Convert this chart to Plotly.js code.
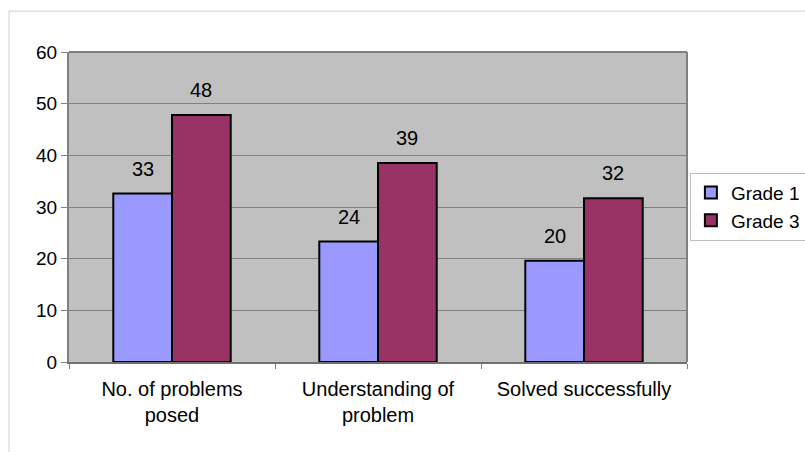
<!DOCTYPE html>
<html>
<head>
<meta charset="utf-8">
<script src="https://cdn.plot.ly/plotly-3.0.1.min.js"></script>
<style>html,body{margin:0;padding:0;background:#fff;}#chart{width:805px;height:452px;}</style>
</head>
<body>
<div id="chart"></div>
<script>
const categories = ["No. of problems<br>posed", "Understanding of<br>problem", "Solved successfully"];
const seriesNames = ["Grade 1", "Grade 3"];
const grade1Values = [32.6, 23.3, 19.6];
const grade3Values = [47.8, 38.5, 31.7];
const grade1Labels = ["33", "24", "20"];
const grade3Labels = ["48", "39", "32"];
const yTicks = [0, 10, 20, 30, 40, 50, 60];

const FONT = "Liberation Sans, Arial, sans-serif";
const BARGAP = 0.43;
const seriesValues = [grade1Values, grade3Values];
const seriesLabels = [grade1Labels, grade3Labels];
const seriesColors = ["#9999FF", "#993366"];

const data = seriesNames.map((name, s) => ({
  type: "bar",
  name: name,
  x: categories,
  y: seriesValues[s],
  marker: {color: seriesColors[s], line: {color: "#000", width: 2}},
  hoverinfo: "skip"
}));

// value labels above each bar, positioned via the category axis
const barWidth = (1 - BARGAP) / seriesNames.length;
const annotations = [];
seriesNames.forEach((name, s) => {
  const offset = (s - (seriesNames.length - 1) / 2) * barWidth;
  seriesValues[s].forEach((v, i) => {
    annotations.push({
      xref: "x", yref: "y",
      x: i + offset, y: v,
      text: seriesLabels[s][i],
      showarrow: false,
      yanchor: "bottom",
      yshift: 12,
      font: {family: FONT, size: 20, color: "#000"}
    });
  });
});

const layout = {
  width: 805,
  height: 452,
  margin: {l: 69, r: 118, t: 52, b: 90},
  paper_bgcolor: "#fff",
  plot_bgcolor: "#C0C0C0",
  barmode: "group",
  bargap: BARGAP,
  bargroupgap: 0,
  font: {family: FONT, color: "#000"},
  xaxis: {
    type: "category",
    tickson: "boundaries",
    ticks: "outside",
    ticklen: 5,
    tickcolor: "#808080",
    showline: true,
    linecolor: "#707070",
    linewidth: 2,
    ticklabelstandoff: 8,
    tickfont: {family: FONT, size: 20, color: "#000"},
    showgrid: false,
    automargin: false
  },
  yaxis: {
    range: [0, 60],
    tickvals: yTicks,
    ticktext: yTicks.map(String),
    ticks: "outside",
    ticklen: 6,
    tickcolor: "#808080",
    showline: true,
    linecolor: "#808080",
    linewidth: 2,
    showgrid: true,
    gridcolor: "#808080",
    gridwidth: 1,
    zeroline: false,
    tickfont: {family: FONT, size: 19, color: "#000"},
    automargin: false
  },
  showlegend: true,
  legend: {
    xref: "container",
    yref: "container",
    x: 0.857,
    xanchor: "left",
    y: 0.618,
    yanchor: "top",
    bgcolor: "#fff",
    bordercolor: "#BDBDBD",
    borderwidth: 1,
    font: {family: FONT, size: 19, color: "#000"},
    tracegroupgap: 0,
    itemwidth: 30
  },
  annotations: annotations,
  shapes: [
    {type: "line", xref: "paper", yref: "paper", x0: 1, x1: 1, y0: 0, y1: 1, line: {color: "#808080", width: 2}},
    {type: "line", xref: "paper", yref: "paper", x0: 0, x1: 1, y0: 1, y1: 1, line: {color: "#808080", width: 2}},
    {type: "line", xref: "paper", yref: "paper", x0: -0.097, x1: 1.2, y0: 1.132, y1: 1.132, line: {color: "#D0D0D0", width: 1}},
    {type: "line", xref: "paper", yref: "paper", x0: -0.097, x1: -0.097, y0: 1.132, y1: -0.3, line: {color: "#D0D0D0", width: 1}}
  ]
};

Plotly.newPlot("chart", data, layout, {displayModeBar: false, staticPlot: true});
</script>
</body>
</html>
